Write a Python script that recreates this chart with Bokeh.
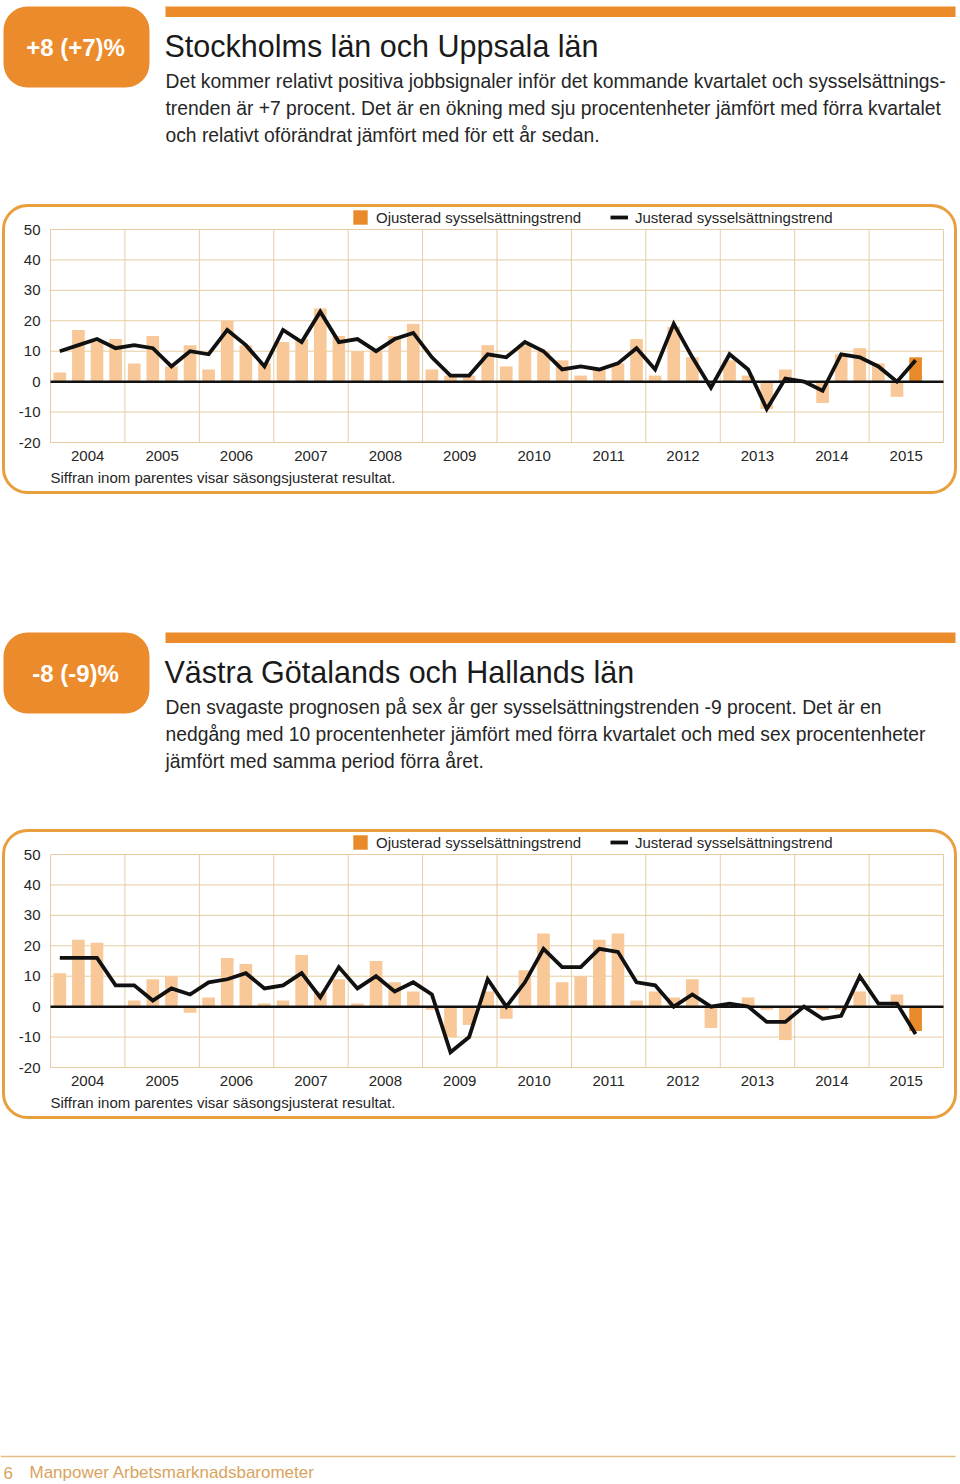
from bokeh.plotting import figure
from bokeh.layouts import column
from bokeh.models import (Range1d, FixedTicker, Label, BoxAnnotation,
                          Legend, LegendItem, ColumnDataSource)
from bokeh.embed import file_html
from bokeh.resources import INLINE

# ---------------- data ----------------
YEARS = ["2004", "2005", "2006", "2007", "2008", "2009",
         "2010", "2011", "2012", "2013", "2014", "2015"]
Y_TICKS = [-20, -10, 0, 10, 20, 30, 40, 50]

SE_BADGE = "+8 (+7)%"
SE_TITLE = "Stockholms län och Uppsala län"
SE_LINES = [
    "Det kommer relativt positiva jobbsignaler inför det kommande kvartalet och sysselsättnings-",
    "trenden är +7 procent. Det är en ökning med sju procentenheter jämfört med förra kvartalet",
    "och relativt oförändrat jämfört med för ett år sedan.",
]
# quarterly values 2004 K1 .. 2015 K3
SE_BARS = [3, 17, 13, 14, 6, 15, 5, 12, 4, 20, 12, 6, 13, 14, 24,
           15, 10, 10, 15, 19, 4, 2, 2, 12, 5, 12, 10, 7, 2, 4, 6, 14,
           2, 18, 8, 0, 7, 2, -9, 4, 0, -7, 9, 11, 6, -5, 8]
SE_TREND = [10, 12, 14, 11, 12, 11, 5, 10, 9, 17, 12, 5, 17, 13, 23,
            13, 14, 10, 14, 16, 8, 2, 2, 9, 8, 13, 10, 4, 5, 4, 6, 11,
            4, 19, 8, -2, 9, 4, -9, 1, 0, -3, 9, 8, 5, 0, 7]

VG_BADGE = "-8 (-9)%"
VG_TITLE = "Västra Götalands och Hallands län"
VG_LINES = [
    "Den svagaste prognosen på sex år ger sysselsättningstrenden -9 procent. Det är en",
    "nedgång med 10 procentenheter jämfört med förra kvartalet och med sex procentenheter",
    "jämfört med samma period förra året.",
]
VG_BARS = [11, 22, 21, 0, 2, 9, 10, -2, 3, 16, 14, 1, 2, 17, 5,
           9, 1, 15, 8, 5, -1, -10, -6, 5, -4, 12, 24, 8, 10, 22, 24, 2,
           5, 3, 9, -7, 0, 3, -1, -11, 0, -1, -1, 5, 0, 4, -8]
VG_TREND = [16, 16, 16, 7, 7, 2, 6, 4, 8, 9, 11, 6, 7, 11, 3,
            13, 6, 10, 5, 8, 4, -15, -10, 9, 0, 8, 19, 13, 13, 19, 18, 8,
            7, 0, 4, 0, 1, 0, -5, -5, 0, -4, -3, 10, 1, 1, -9]

LEGEND_BARS = "Ojusterad sysselsättningstrend"
LEGEND_LINE = "Justerad sysselsättningstrend"
NOTE = "Siffran inom parentes visar säsongsjusterat resultat."
FOOTER_PAGE = "6"
FOOTER_TEXT = "Manpower Arbetsmarknadsbarometer"

# ---------------- style ----------------
W = 960
FONT = "Liberation Sans"
ORANGE = "#EC8B2B"
LIGHT = "#F8C898"
DARK = "#E98A2A"
GRID = "#E6CCA0"
BOX = "#E9A03C"
FOOT = "#D9A35E"
TXT = "#262626"


def base_fig(h, **kw):
    p = figure(width=W, height=h, output_backend="svg", toolbar_location=None,
               min_border=0, **kw)
    p.background_fill_color = "white"
    p.border_fill_color = "white"
    p.outline_line_color = None
    return p


def header(h, top, badge, title, lines):
    p = base_fig(h, x_range=Range1d(0, W), y_range=Range1d(0, h),
                 x_axis_location=None, y_axis_location=None)
    p.xgrid.visible = False
    p.ygrid.visible = False

    def Y(t):
        return h - t

    p.add_layout(BoxAnnotation(left=3, right=149, top=Y(top), bottom=Y(top + 81),
                               fill_color=ORANGE, fill_alpha=1, line_color=None,
                               border_radius=24))
    p.add_layout(Label(x=75, y=Y(top + 41), text=badge, text_align="center",
                       text_baseline="middle", text_color="white", text_font=FONT,
                       text_font_style="bold", text_font_size="24px"))
    p.add_layout(BoxAnnotation(left=165, right=955, top=Y(top), bottom=Y(top + 10.5),
                               fill_color=ORANGE, fill_alpha=1, line_color=None))
    p.add_layout(Label(x=164, y=Y(top + 39), text=title, text_baseline="middle",
                       text_color="#1a1a1a", text_font=FONT, text_font_size="30.5px"))
    for k, line in enumerate(lines):
        p.add_layout(Label(x=165, y=Y(top + 75 + 27 * k), text=line,
                           text_baseline="middle", text_color=TXT,
                           text_font=FONT, text_font_size="19.3px"))
    return p


def chart(bars, trend):
    H = 310
    L, R, T, B = 50, 943, 34, 247          # pixel box of the data area
    nq = 4 * len(YEARS)
    pxq = (R - L) / nq
    pxy = (B - T) / (Y_TICKS[-1] - Y_TICKS[0])
    p = base_fig(H,
                 x_range=Range1d(-L / pxq, nq + (W - R) / pxq),
                 y_range=Range1d(Y_TICKS[0] - (H - B) / pxy, Y_TICKS[-1] + T / pxy))
    p.xgrid.visible = False
    p.ygrid.visible = False

    # grid lines limited to the data area
    bounds = [4 * k for k in range(len(YEARS) + 1)]
    p.segment(x0=bounds, x1=bounds, y0=[Y_TICKS[0]] * len(bounds),
              y1=[Y_TICKS[-1]] * len(bounds), line_color=GRID, line_width=1)
    p.segment(x0=[0] * len(Y_TICKS), x1=[nq] * len(Y_TICKS), y0=Y_TICKS, y1=Y_TICKS,
              line_color=GRID, line_width=1)

    xs = [i + 0.5 for i in range(len(bars))]
    last = len(bars) - 1
    src = ColumnDataSource(dict(x=xs[:last], top=bars[:last]))
    p.vbar(x="x", top="top", bottom=0, width=0.68, source=src,
           fill_color=LIGHT, line_color=None)
    rcur = p.vbar(x=[xs[last]], top=[bars[last]], bottom=0, width=0.68,
                  fill_color=DARK, line_color=None)
    p.segment(x0=[0], x1=[nq], y0=[0], y1=[0], line_color="#111111", line_width=2.5)
    rline = p.line(xs, trend, line_color="#111111", line_width=3.8, line_join="miter")

    p.xaxis.ticker = FixedTicker(ticks=[4 * k + 2 for k in range(len(YEARS))])
    p.xaxis.major_label_overrides = {4 * k + 2: y for k, y in enumerate(YEARS)}
    p.yaxis.ticker = FixedTicker(ticks=Y_TICKS)
    p.yaxis.major_label_overrides = {t: str(t) for t in Y_TICKS}
    p.xaxis.fixed_location = Y_TICKS[0]
    p.yaxis.fixed_location = 0
    for ax in (p.xaxis[0], p.yaxis[0]):
        ax.axis_line_color = None
        ax.major_tick_line_color = None
        ax.minor_tick_line_color = None
        ax.major_tick_out = 0
        ax.major_tick_in = 0
        ax.major_label_text_font = FONT
        ax.major_label_text_font_size = "15px"
        ax.major_label_text_color = TXT
    p.yaxis.major_label_standoff = 10
    p.xaxis.major_label_standoff = 8

    # legends above the data area
    for item, vx in ((LegendItem(label=LEGEND_BARS, renderers=[rcur]), 351),
                     (LegendItem(label=LEGEND_LINE, renderers=[rline]), 610)):
        lg = Legend(items=[item], location=(vx, H - 31), orientation="horizontal",
                    padding=0, margin=0, border_line_color=None,
                    background_fill_alpha=0, glyph_width=18, glyph_height=18,
                    label_height=18, label_standoff=7, label_text_font=FONT,
                    label_text_font_size="15px", label_text_color=TXT)
        p.add_layout(lg)

    p.add_layout(Label(x=L, y=H - 282, x_units="screen", y_units="screen", text=NOTE,
                       text_baseline="middle", text_color=TXT, text_font=FONT,
                       text_font_size="15px"))
    p.add_layout(BoxAnnotation(left=3, right=955, top=H - 10, bottom=H - 297,
                               left_units="screen", right_units="screen",
                               top_units="screen", bottom_units="screen",
                               fill_alpha=0, line_color=BOX, line_alpha=1,
                               line_width=3, border_radius=24))
    return p


def footer(h):
    p = base_fig(h, x_range=Range1d(0, W), y_range=Range1d(0, h),
                 x_axis_location=None, y_axis_location=None)
    p.xgrid.visible = False
    p.ygrid.visible = False
    p.segment(x0=[0], x1=[955], y0=[h - 326], y1=[h - 326],
              line_color="#E3BE85", line_width=1.3)
    p.add_layout(Label(x=3, y=h - 342, text=FOOTER_PAGE, text_baseline="middle",
                       text_color=FOOT, text_font=FONT, text_font_size="17px"))
    p.add_layout(Label(x=29, y=h - 342, text=FOOTER_TEXT, text_baseline="middle",
                       text_color=FOOT, text_font=FONT, text_font_size="17px"))
    return p


h1 = header(195, 6, SE_BADGE, SE_TITLE, SE_LINES)
c1 = chart(SE_BARS, SE_TREND)
h2 = header(315, 127, VG_BADGE, VG_TITLE, VG_LINES)
c2 = chart(VG_BARS, VG_TREND)
f1 = footer(354)

page = column(h1, c1, h2, c2, f1, spacing=0)
open("out.html", "w").write(file_html(page, INLINE))
